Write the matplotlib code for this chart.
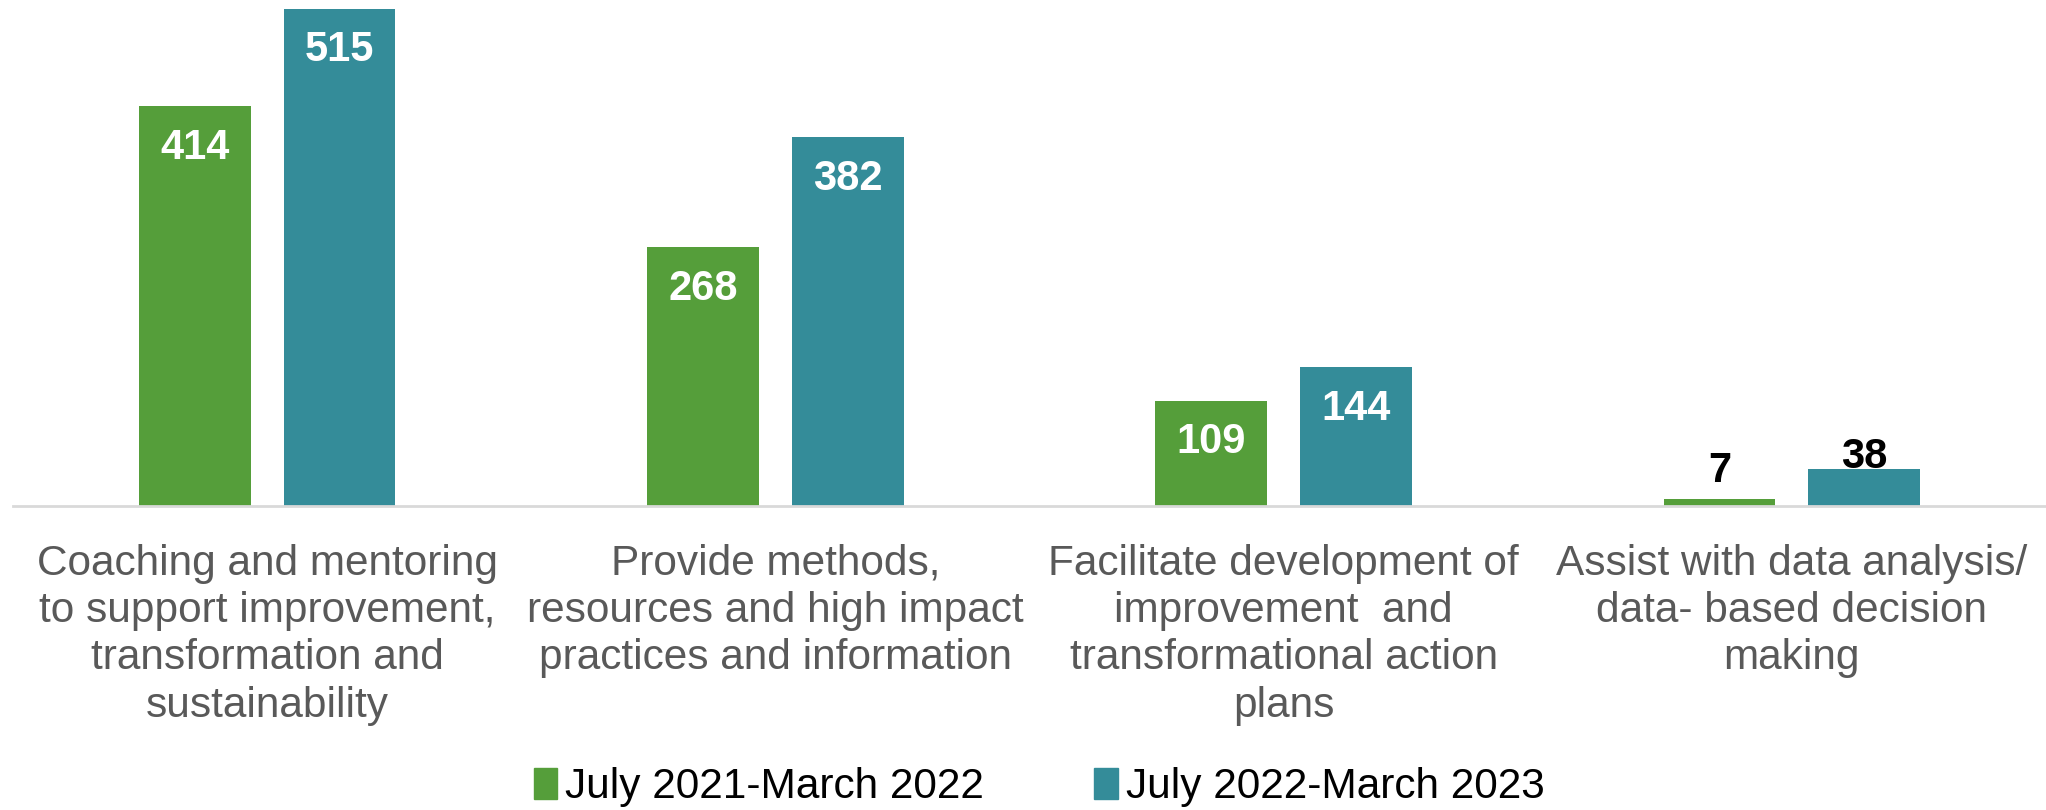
import numpy as np
import matplotlib.pyplot as plt
from matplotlib.patches import Patch

plt.rcParams['font.family'] = ['Liberation Sans', 'DejaVu Sans']

categories = [
    "Coaching and mentoring\nto support improvement,\ntransformation and\nsustainability",
    "Provide methods,\nresources and high impact\npractices and information",
    "Facilitate development of\nimprovement  and\ntransformational action\nplans",
    "Assist with data analysis/\ndata- based decision\nmaking",
]
series_names = ["July 2021-March 2022", "July 2022-March 2023"]
values_2122 = [414, 268, 109, 7]
values_2223 = [515, 382, 144, 38]

green = "#559E3A"
teal = "#348C99"

fig = plt.figure(figsize=(20.46, 8.10), dpi=100)
ax = fig.add_axes([13 / 2046, 1 - 506 / 810, 1 - 13 / 2046, 506 / 810])

x = np.arange(len(categories))
w = 0.22
off = 0.1425
b1 = ax.bar(x - off, values_2122, w, color=green)
b2 = ax.bar(x + off, values_2223, w, color=teal)

ax.set_xlim(-0.5, 3.5)
ax.set_ylim(0, 524)

# labels: inside (white) for tall bars, above (black) for short ones
for bars in (b1, b2):
    for rect in bars:
        v = rect.get_height()
        cx = rect.get_x() + rect.get_width() / 2
        if v > 60:
            ax.annotate(str(int(v)), (cx, v), xytext=(0, -30), textcoords='offset points',
                        ha='center', va='center', color='white', fontsize=30, fontweight='bold')
        else:
            dy = 20 if v < 20 else 9
            ax.annotate(str(int(v)), (cx, v), xytext=(0, dy), textcoords='offset points',
                        ha='center', va='center', color='black', fontsize=30, fontweight='bold')

for s in ['top', 'right', 'left']:
    ax.spines[s].set_visible(False)
ax.spines['bottom'].set_color('#D9D9D9')
ax.spines['bottom'].set_linewidth(2)
ax.set_yticks([])
ax.set_xticks(x)
ax.set_xticklabels(categories, fontsize=30.5, color='#595959', linespacing=1.24)
ax.tick_params(axis='x', length=0, pad=27)

handles = [Patch(color=green), Patch(color=teal)]
fig.legend(handles, series_names, loc='center', bbox_to_anchor=(0.508, 0.028),
           ncol=2, frameon=False, fontsize=30.5, handlelength=0.55, handleheight=0.75,
           handletextpad=0.2, columnspacing=2.6)

fig.savefig('out.png', dpi=100)
